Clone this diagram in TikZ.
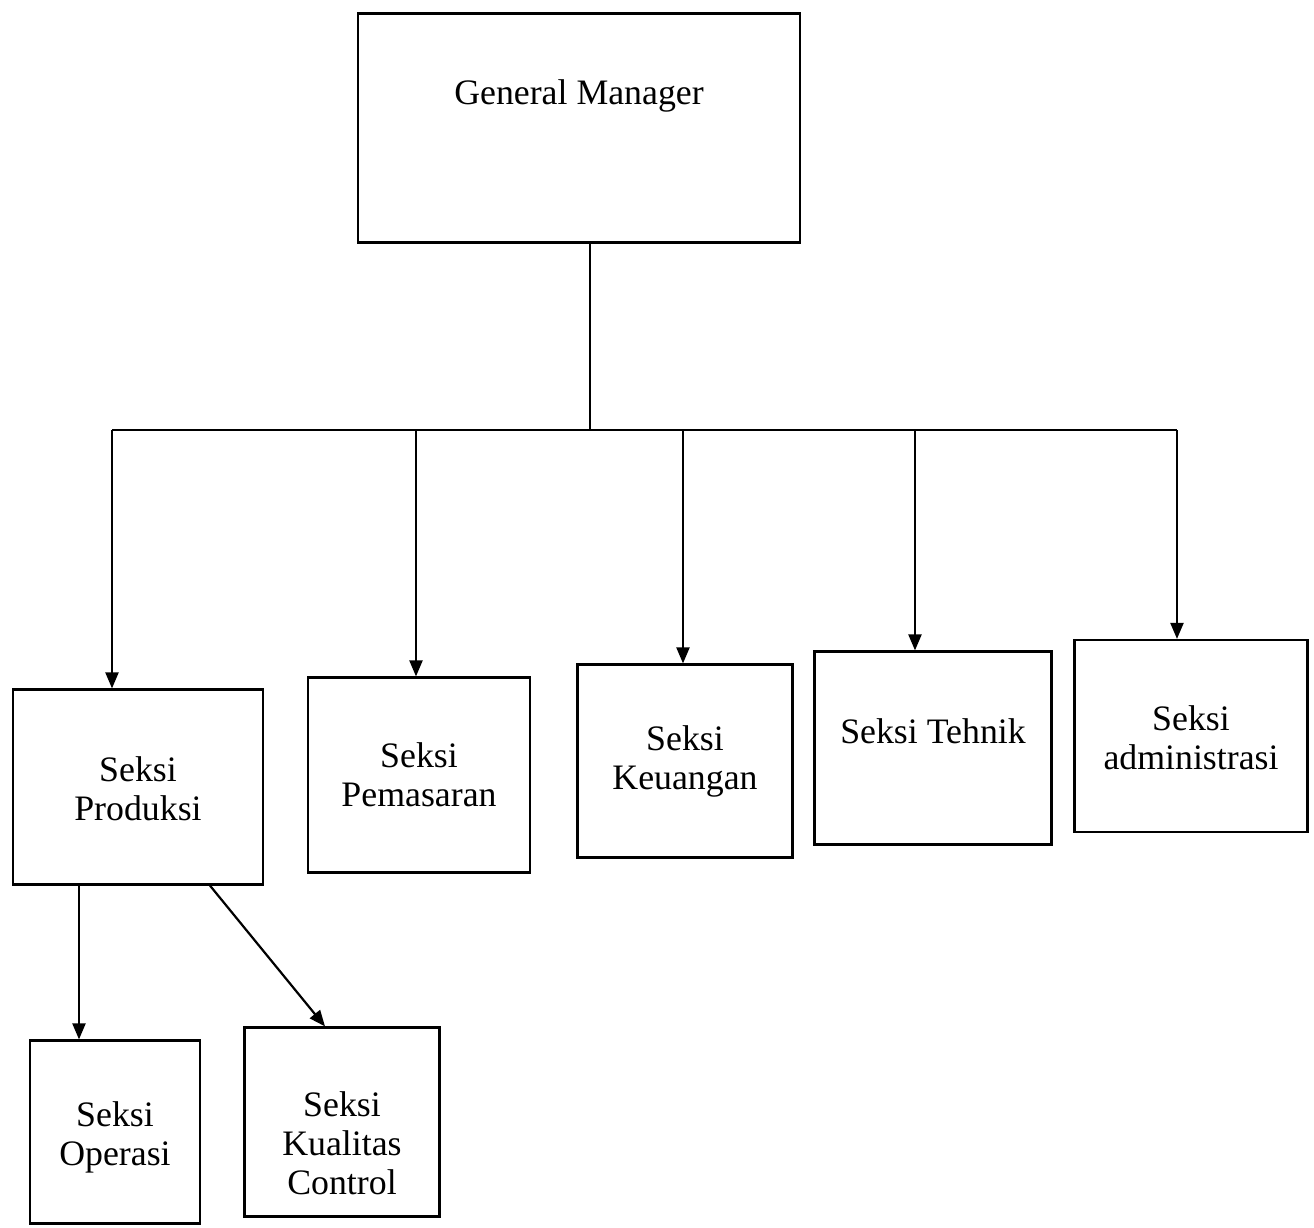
\documentclass[tikz,border=0pt]{standalone}
\usepackage{fontspec}
\setmainfont{Liberation Serif}
\usetikzlibrary{arrows.meta}
\begin{document}
\begin{tikzpicture}[x=0.5pt,y=-0.5pt,
  box/.style={draw=black, line width=1.1pt, fill=white, inner sep=0pt},
  txt/.style={inner sep=0pt, align=center, font=\fontsize{17.9pt}{19.5pt}\selectfont},
  conn/.style={draw=black, line width=1.1pt, line join=miter},
  arr/.style={conn, -{Triangle[length=8pt,width=6.5pt]}}]
\useasboundingbox (0,0) rectangle (1314,1228);

% boxes
\node[box, minimum width=221pt, minimum height=114.5pt] (gm) at (579,128) {};
\node[box, minimum width=125pt, minimum height=97.5pt] (prod) at (138,787) {};
\node[box, minimum width=111pt, minimum height=97.5pt] (pem) at (419,775) {};
\node[box, minimum width=107.5pt, minimum height=96.5pt] (keu) at (685,761) {};
\node[box, minimum width=118.5pt, minimum height=96.5pt] (teh) at (933,748) {};
\node[box, minimum width=116.5pt, minimum height=96pt] (adm) at (1191,736) {};
\node[box, minimum width=85pt, minimum height=91.5pt] (ope) at (115,1132) {};
\node[box, minimum width=97.5pt, minimum height=94.5pt] (kua) at (342,1122) {};

% texts
\node[txt] (gm-t) at ([yshift=16pt]gm.center) {General Manager};
\node[txt] (prod-t) at ([yshift=-1pt]prod.center) {Seksi\\Produksi};
\node[txt] (pem-t) at (pem.center) {Seksi\\Pemasaran};
\node[txt] (keu-t) at (keu.center) {Seksi\\Keuangan};
\node[txt] (teh-t) at ([yshift=8.5pt]teh.center) {Seksi Tehnik};
\node[txt] (adm-t) at ([yshift=-1pt]adm.center) {Seksi\\administrasi};
\node[txt] (ope-t) at ([yshift=-2.5pt]ope.center) {Seksi\\Operasi};
\node[txt] (kua-t) at ([yshift=-10.5pt]kua.center) {Seksi\\Kualitas\\Control};

% connector points
\coordinate (j) at (590,430);
\coordinate (a1) at (112,430);
\coordinate (a2) at (416,430);
\coordinate (a3) at (683,430);
\coordinate (a4) at (915,430);
\coordinate (a5) at (1177,430);
\coordinate (po) at (79,0);
\coordinate (pk1) at (210,0);
\coordinate (pk2) at (325,0);

% connectors
\draw[conn] (j |- gm.south) -- (j);
\draw[conn] (a1) -- (a5);
\draw[arr] (a1) -- (a1 |- prod.north);
\draw[arr] (a2) -- (a2 |- pem.north);
\draw[arr] (a3) -- (a3 |- keu.north);
\draw[arr] (a4) -- (a4 |- teh.north);
\draw[arr] (a5) -- (a5 |- adm.north);
\draw[arr] (po |- prod.south) -- (po |- ope.north);
\draw[arr] (pk1 |- prod.south) -- (pk2 |- kua.north);
\end{tikzpicture}
\end{document}
